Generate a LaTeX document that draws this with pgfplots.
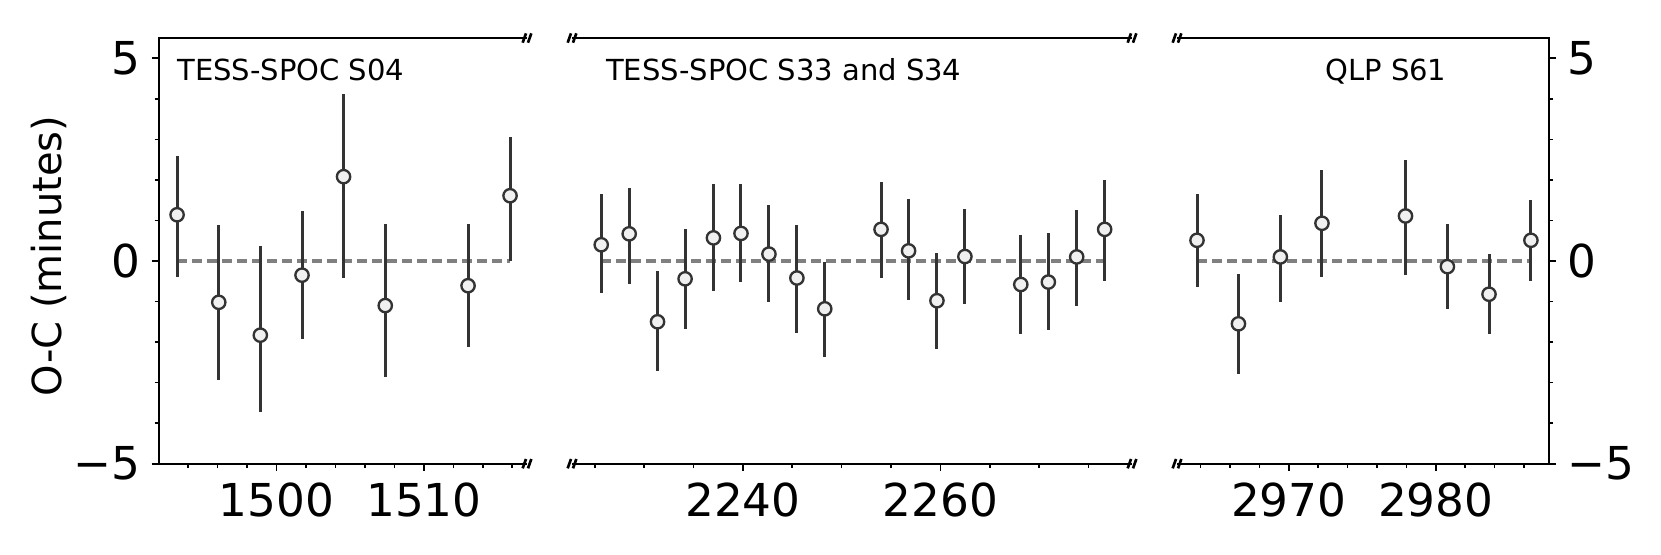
\documentclass[border=0pt]{standalone}
\usepackage{fontspec}
\setmainfont{DejaVu Sans}
\usepackage{pgfplots}
\usepackage{pgfplotstable}
\pgfplotsset{compat=1.18}

\definecolor{ebar}{HTML}{333333}
\definecolor{zline}{HTML}{808080}

% O-C values: x, y, upper error, lower error
\pgfplotstableread{
x y ep em
1493.25  1.14 1.45 1.53
1496.08 -1.02 1.90 1.92
1498.90 -1.83 2.19 1.90
1501.73 -0.35 1.59 1.57
1504.55  2.08 2.05 2.50
1507.38 -1.10 2.00 1.76
1513.00 -0.61 1.53 1.51
1515.85  1.61 1.45 1.60
}\secA

\pgfplotstableread{
x y ep em
2225.66  0.40 1.24 1.20
2228.49  0.67 1.13 1.23
2231.36 -1.50 1.25 1.22
2234.15 -0.44 1.24 1.24
2237.02  0.57 1.34 1.32
2239.81  0.68 1.23 1.20
2242.64  0.17 1.21 1.17
2245.47 -0.42 1.31 1.35
2248.29 -1.18 1.15 1.19
2253.99  0.78 1.18 1.19
2256.78  0.25 1.27 1.22
2259.65 -0.98 1.17 1.19
2262.48  0.11 1.18 1.18
2268.14 -0.58 1.23 1.21
2270.93 -0.52 1.20 1.18
2273.80  0.10 1.16 1.22
2276.63  0.78 1.22 1.28
}\secB

\pgfplotstableread{
x y ep em
2963.76  0.51 1.13 1.14
2966.58 -1.55 1.23 1.25
2969.43  0.10 1.03 1.10
2972.26  0.93 1.32 1.32
2977.94  1.11 1.37 1.45
2980.79 -0.14 1.06 1.05
2983.62 -0.82 0.98 0.97
2986.47  0.51 1.00 1.01
}\secC

\pgfplotsset{
  ocpanel/.style={
    scale only axis, height=127.7pt,
    ymin=-5, ymax=5.5,
    axis line style={draw=none},
    tick align=outside,
    major tick length=2.1pt, minor tick length=1.2pt,
    tick style={black, line width=0.5pt},
    ticklabel style={font=\fontsize{13.6}{15}\selectfont},
    xtick pos=left,
    clip=false,
    anchor=south west,
  },
  ocdata/.style={only marks, mark=*, mark size=2pt,
    mark options={fill=gray!12, draw=ebar, line width=0.7pt},
    error bars/.cd, y dir=both, y explicit, error mark=none,
    error bar style={ebar, line width=0.9pt}},
}
\tikzset{
  zero/.style={zline, line width=1pt, dash pattern=on 3pt off 1.5pt},
  spine/.style={black, line width=0.55pt},
  ttl/.style={inner sep=0pt, font=\fontsize{8.7}{10}\selectfont},
}

\newcommand{\brk}[1]{%
  \draw[black, line width=0.8pt]
    ([xshift=-0.8pt]#1) ++(-0.5pt,-1.4pt) -- ++(1pt,2.8pt)
    ([xshift=0.8pt]#1) ++(-0.5pt,-1.4pt) -- ++(1pt,2.8pt);}

\begin{document}
\begin{tikzpicture}
\path[use as bounding box] (0,0) rectangle (498.3pt,166.2pt);

\begin{axis}[ocpanel, at={(47.6pt,27.1pt)}, width=110.5pt,
  xmin=1492, xmax=1517,
  xtick={1500,1510}, xticklabels={1500,1510},
  minor xtick={1494,1496,...,1516},
  ytick={-5,0,5}, yticklabels={−5,0,5},
  minor ytick={-4,...,4}, ytick pos=left]
\addplot[zero] coordinates {(1493.25,0) (1515.85,0)};
\addplot[ocdata] table[x=x, y=y, y error plus=ep, y error minus=em] {\secA};
\draw[spine] (rel axis cs:1,0) -- (rel axis cs:0,0) -- (rel axis cs:0,1) -- (rel axis cs:1,1);
\coordinate (A1) at (rel axis cs:1,1);
\coordinate (A0) at (rel axis cs:1,0);
\node[ttl, anchor=base west] at (rel axis cs:0.049,0.901) {TESS-SPOC S04};
\end{axis}

\begin{axis}[ocpanel, at={(171.6pt,27.1pt)}, width=168pt,
  xmin=2222.7, xmax=2279.4,
  xtick={2240,2260}, xticklabels={2240,2260},
  minor xtick={2225,2230,...,2275},
  ytick=\empty]
\addplot[zero] coordinates {(2225.66,0) (2276.63,0)};
\addplot[ocdata] table[x=x, y=y, y error plus=ep, y error minus=em] {\secB};
\draw[spine] (rel axis cs:0,0) -- (rel axis cs:1,0);
\draw[spine] (rel axis cs:0,1) -- (rel axis cs:1,1);
\coordinate (B0) at (rel axis cs:0,0);
\coordinate (B1) at (rel axis cs:0,1);
\coordinate (B2) at (rel axis cs:1,0);
\coordinate (B3) at (rel axis cs:1,1);
\node[ttl, anchor=base west] at (rel axis cs:0.06,0.901) {TESS-SPOC S33 and S34};
\end{axis}

\begin{axis}[ocpanel, at={(353.1pt,27.1pt)}, width=111.6pt,
  xmin=2962.4, xmax=2987.7,
  xtick={2970,2980}, xticklabels={2970,2980},
  minor xtick={2964,2966,...,2986},
  ytick={-5,0,5}, yticklabels={−5,0,5},
  minor ytick={-4,...,4}, ytick pos=right]
\addplot[zero] coordinates {(2963.76,0) (2986.47,0)};
\addplot[ocdata] table[x=x, y=y, y error plus=ep, y error minus=em] {\secC};
\draw[spine] (rel axis cs:0,1) -- (rel axis cs:1,1) -- (rel axis cs:1,0) -- (rel axis cs:0,0);
\coordinate (C0) at (rel axis cs:0,0);
\coordinate (C1) at (rel axis cs:0,1);
\node[ttl, anchor=base] at (rel axis cs:0.5615,0.901) {QLP S61};
\end{axis}

\brk{A0} \brk{A1} \brk{B0} \brk{B1} \brk{B2} \brk{B3} \brk{C0} \brk{C1}

\node[rotate=90, anchor=base, inner sep=0pt, font=\fontsize{12}{14}\selectfont] at (18.3pt,89.4pt) {O-C (minutes)};
\end{tikzpicture}
\end{document}
